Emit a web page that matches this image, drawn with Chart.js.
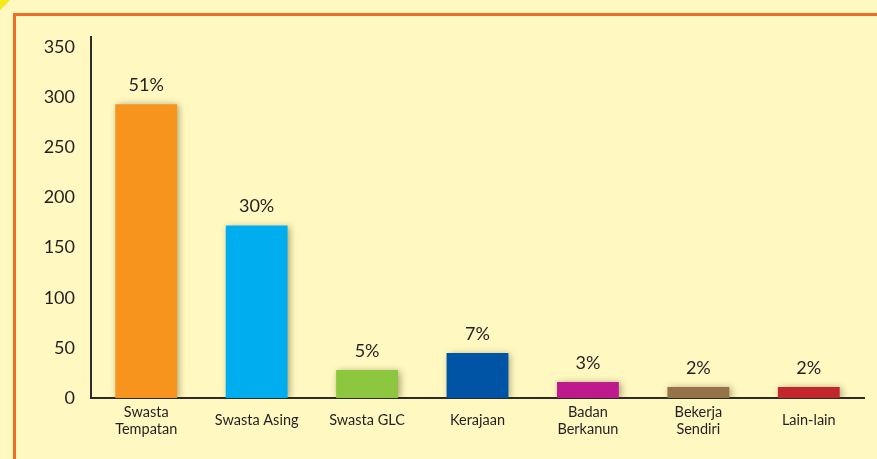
<!DOCTYPE html>
<html>
<head>
<meta charset="utf-8">
<script src="https://cdn.jsdelivr.net/npm/chart.js@4"></script>
<style>
  html, body { margin: 0; padding: 0; }
  body { width: 877px; height: 459px; background: #fff8c1; position: relative; overflow: hidden; }
  .corner { position: absolute; left: -12px; top: -12px; width: 20px; height: 20px; background: #f2ea1c; transform: rotate(45deg); }
  .frame { position: absolute; left: 13px; top: 13px; width: 900px; height: 500px; border-left: 3px solid #f26c23; border-top: 3px solid #f26c23; }
  canvas { position: absolute; left: 0; top: 0; }
</style>
</head>
<body>
<div class="corner"></div>
<div class="frame"></div>
<canvas id="chart" width="877" height="459"></canvas>
<script>
const categories = [
  ["Swasta", "Tempatan"],
  "Swasta Asing",
  "Swasta GLC",
  "Kerajaan",
  ["Badan", "Berkanun"],
  ["Bekerja", "Sendiri"],
  "Lain-lain",
];
const counts = [293, 172, 28, 45, 16, 11, 11];
const percentLabels = ["51%", "30%", "5%", "7%", "3%", "2%", "2%"];
const barColors = ["#f7941d", "#00aeef", "#8dc63f", "#0054a6", "#bd1a8d", "#967249", "#c1272d"];
const yTicks = [0, 50, 100, 150, 200, 250, 300, 350];

const textColor = "#231f20";
const fontFamily = "Lato, 'Open Sans', sans-serif";

// shadow under the bars, then the percent labels on top
const barShadow = {
  id: "barShadow",
  beforeDatasetsDraw(chart) {
    const ctx = chart.ctx;
    ctx.save();
    ctx.shadowColor = "rgba(60, 50, 0, 0.45)";
    ctx.shadowBlur = 7;
    ctx.shadowOffsetX = 2;
    ctx.shadowOffsetY = 1;
  },
  afterDatasetsDraw(chart) {
    const ctx = chart.ctx;
    ctx.restore();
    const meta = chart.getDatasetMeta(0);
    ctx.save();
    ctx.fillStyle = textColor;
    ctx.font = "18px " + fontFamily;
    ctx.textAlign = "center";
    ctx.textBaseline = "middle";
    meta.data.forEach((bar, i) => {
      ctx.fillText(percentLabels[i], bar.x, bar.y - 19);
    });
    ctx.restore();
  },
};

new Chart(document.getElementById("chart"), {
  type: "bar",
  data: {
    labels: categories,
    datasets: [
      {
        data: counts,
        backgroundColor: barColors,
        borderWidth: 0,
        barPercentage: 0.56,
        categoryPercentage: 1,
      },
    ],
  },
  options: {
    responsive: false,
    animation: false,
    layout: { padding: { top: 37, right: 13, left: 0, bottom: 0 } },
    plugins: {
      legend: { display: false },
      tooltip: { enabled: false },
    },
    scales: {
      x: {
        grid: { display: false, drawTicks: false },
        border: { display: true, color: "#2b2b2b", width: 2 },
        ticks: {
          color: textColor,
          font: { family: fontFamily, size: 14.5 },
          padding: 14,
          crossAlign: "center",
          maxRotation: 0,
          autoSkip: false,
        },
        afterFit(scale) { scale.height = 61; },
      },
      y: {
        min: 0,
        max: 360,
        grid: { display: false, drawTicks: false },
        border: { display: true, color: "#2b2b2b", width: 2 },
        ticks: {
          color: textColor,
          font: { family: fontFamily, size: 18 },
          padding: 16,
        },
        afterBuildTicks(scale) {
          scale.ticks = yTicks.map((v) => ({ value: v }));
        },
        afterFit(scale) { scale.width = 91; },
      },
    },
  },
  plugins: [barShadow],
});
</script>
</body>
</html>
